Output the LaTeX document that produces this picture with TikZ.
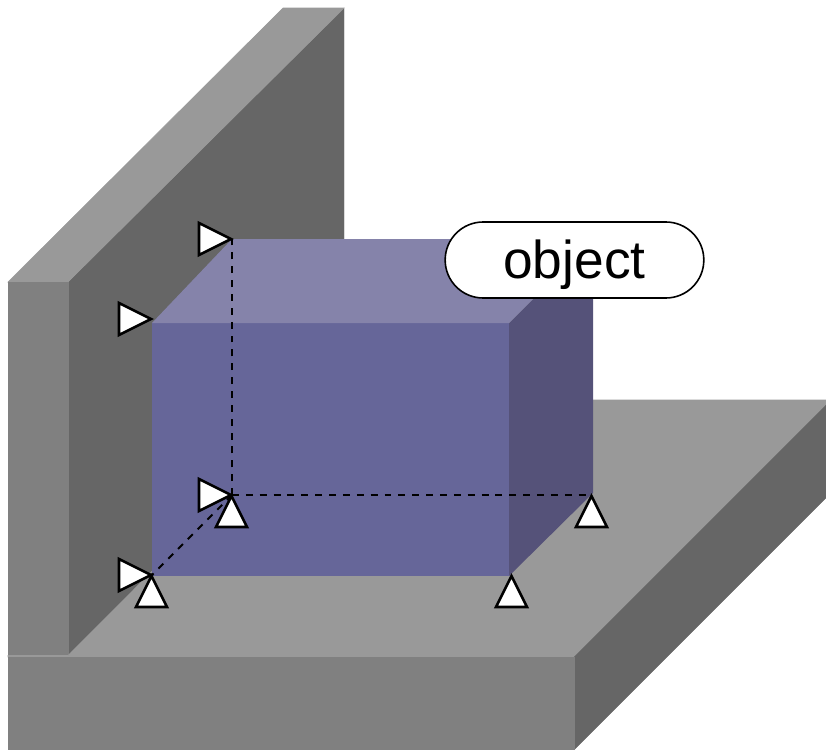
\documentclass[tikz,border=0pt]{standalone}
\usepackage{fontspec}
\setmainfont{Liberation Sans}
\usetikzlibrary{shapes.misc}
\definecolor{greylight}{HTML}{999999}
\definecolor{greymid}{HTML}{808080}
\definecolor{greydark}{HTML}{666666}
\definecolor{boxfront}{HTML}{666699}
\definecolor{boxtop}{HTML}{8583AA}
\definecolor{boxside}{HTML}{555279}
\tikzset{
  lightface/.style={fill=greylight,draw=greylight,line width=0.4pt},
  midface/.style={fill=greymid,draw=greymid,line width=0.2pt},
  darkface/.style={fill=greydark,draw=greydark,line width=0.2pt},
  frontface/.style={fill=boxfront},
  topface/.style={fill=boxtop},
  sideface/.style={fill=boxside},
  guide/.style={draw=black,line width=1.5pt,dash pattern=on 5.2pt off 5.2pt},
  tri/.style={draw=black,fill=white,line width=1.9pt,line join=miter},
  rightmark/.pic={\path[tri] (0,0)--(-32,-16)--(-32,16)--cycle;},
  upmark/.pic={\path[tri] (0,0)--(-15.5,31)--(15.5,31)--cycle;},
  label/.style={draw=black,fill=white,line width=1.2pt,rounded rectangle,
    minimum width=194pt,minimum height=57pt,inner sep=0pt,
    text height=36pt,text depth=9pt,
    font=\fontsize{40}{48}\selectfont}
}
\begin{document}
\begin{tikzpicture}[x=0.75pt,y=-0.75pt]
\useasboundingbox (0,0) rectangle (826,750);
% wall
\path[darkface] (68,282)--(344,8)--(344,420)--(68,655.5)--cycle;
\path[lightface] (8,282)--(68,282)--(344,8)--(283,8)--cycle;
\path[midface] (8,282) rectangle (68,655.5);
% base
\path[lightface] (8,655.5)--(68,655.5)--(323,400)--(826,400)--(826,405)--(574,657)--(8,657)--cycle;
\path[darkface] (574,657)--(826,405)--(826,498)--(574,750)--cycle;
\path[midface] (8,657) rectangle (574,750);
% object
\coordinate (ftl) at (152,323);
\coordinate (ftr) at (509,323);
\coordinate (fbr) at (509,576);
\coordinate (fbl) at (152,576);
\coordinate (btl) at (232,239);
\coordinate (btr) at (593,239);
\coordinate (bbr) at (593,493);
\path[frontface] (ftl)--(ftr)--(fbr)--(fbl)--cycle;
\path[topface] (ftl)--(btl)--(btr)--(ftr)--cycle;
\path[sideface] (ftr)--(btr)--(bbr)--(fbr)--cycle;
% hidden edges
\coordinate (g0) at (232,495);
\coordinate (g1) at (232,239);
\coordinate (g2) at (591,495);
\coordinate (g3) at (152,575);
\draw[guide] (g0)--(g1);
\draw[guide] (g0)--(g2);
\draw[guide] (g0)--(g3);
% location marks
\pic at (231,239) {rightmark};
\pic at (151,319) {rightmark};
\pic at (231,495) {rightmark};
\pic at (151,575) {rightmark};
\pic at (231.5,496) {upmark};
\pic at (151.5,576) {upmark};
\pic at (591.5,496) {upmark};
\pic at (511.5,576) {upmark};
\node[label] (obj) at (574.5,260) {object};
\end{tikzpicture}
\end{document}
